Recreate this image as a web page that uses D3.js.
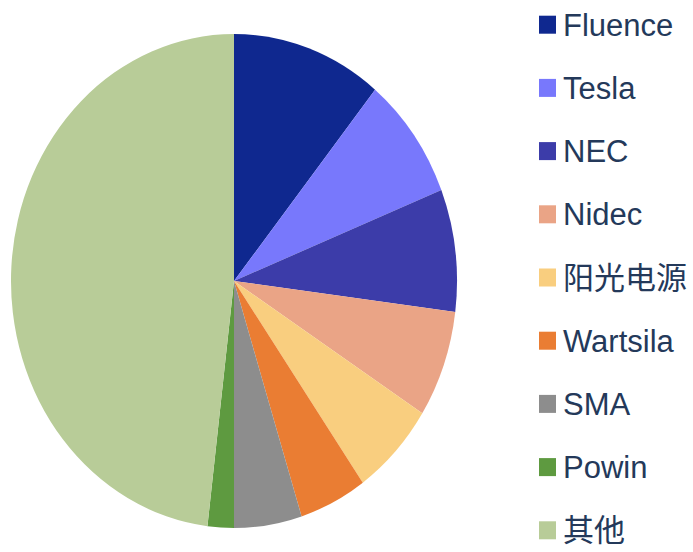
<!DOCTYPE html>
<html>
<head>
<meta charset="utf-8">
<script src="https://cdn.jsdelivr.net/npm/d3@7/dist/d3.min.js"></script>
<style>
  html, body { margin: 0; padding: 0; background: #fff; }
  svg { display: block; }
</style>
</head>
<body>
<svg id="chart" width="693" height="552"></svg>
<script>
const categories = ["Fluence", "Tesla", "NEC", "Nidec", "阳光电源", "Wartsila", "SMA", "Powin", "其他"];
const shares = [10.9, 8.1, 8.0, 7.0, 6.2, 4.9, 4.9, 1.9, 48.1];
const colors = ["#0F288F", "#7878FC", "#3C3CA9", "#EAA486", "#F9CE7F", "#EA7D33", "#8D8D8D", "#5E9A40", "#B8CC98"];

const svg = d3.select("#chart");
const cx = 234, cy = 281, rx = 223, ry = 247;

const data = categories.map((c, i) => ({ name: c, value: shares[i], color: colors[i] }));
const pie = d3.pie().value(d => d.value).sort(null);
const arc = d3.arc().innerRadius(0).outerRadius(ry);

const g = svg.append("g")
  .attr("transform", `translate(${cx},${cy}) scale(${rx / ry},1)`);

g.selectAll("path")
  .data(pie(data))
  .join("path")
  .attr("d", arc)
  .attr("fill", d => d.data.color);

// Legend
const legendY = d3.scaleLinear().domain([0, categories.length - 1]).range([35.7, 541.3]);
const lg = svg.append("g");
const items = lg.selectAll("g.item")
  .data(data)
  .join("g")
  .attr("class", "item")
  .attr("transform", (d, i) => `translate(0,${legendY(i)})`);

items.append("rect")
  .attr("x", 539)
  .attr("y", -20)
  .attr("width", 17)
  .attr("height", 18)
  .attr("fill", d => d.color);

items.append("text")
  .attr("x", 563)
  .attr("y", 0)
  .attr("font-family", "'Liberation Sans', Arial, 'Noto Sans CJK SC', sans-serif")
  .attr("font-size", 31)
  .attr("fill", "#24395A")
  .text(d => d.name);
</script>
</body>
</html>
